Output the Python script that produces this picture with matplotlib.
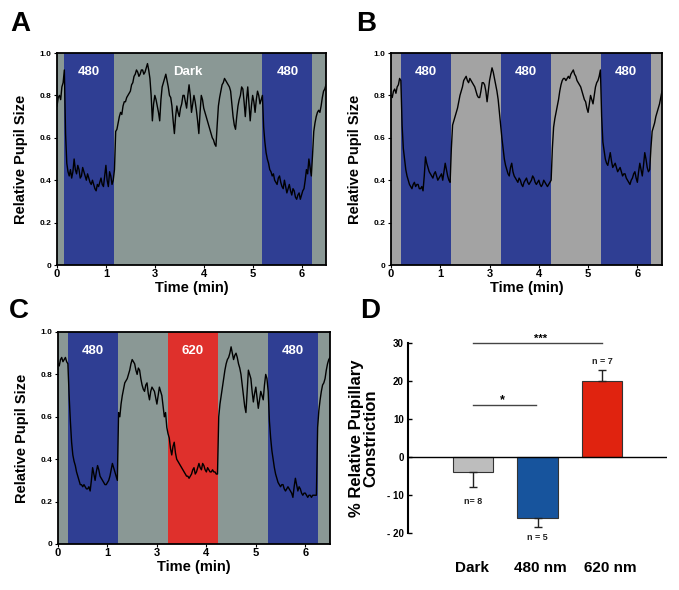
import numpy as np
import matplotlib
matplotlib.use("Agg")
import matplotlib.pyplot as plt

plt.rcParams['font.family'] = ['Liberation Sans', 'DejaVu Sans']
plt.rcParams['font.weight'] = 'bold'

# ---------------- data ----------------
step = 0.025  # time step of the traces (axis units)
trace_a = [0.75, 0.79, 0.80, 0.78, 0.84, 0.86, 0.92, 0.62, 0.48, 0.44,
           0.42, 0.45, 0.41, 0.44, 0.50, 0.45, 0.43, 0.47, 0.45, 0.41,
           0.42, 0.46, 0.44, 0.42, 0.40, 0.43, 0.41, 0.39, 0.38, 0.40,
           0.38, 0.36, 0.35, 0.38, 0.37, 0.39, 0.41, 0.38, 0.37, 0.42,
           0.47, 0.40, 0.37, 0.44, 0.42, 0.38, 0.40, 0.45, 0.63, 0.64,
           0.67, 0.70, 0.72, 0.71, 0.75, 0.77, 0.77, 0.79, 0.80, 0.81,
           0.82, 0.85, 0.86, 0.89, 0.90, 0.92, 0.91, 0.89, 0.90, 0.92,
           0.92, 0.90, 0.91, 0.93, 0.95, 0.92, 0.88, 0.80, 0.68, 0.76,
           0.80, 0.78, 0.75, 0.72, 0.68, 0.78, 0.84, 0.86, 0.88, 0.90,
           0.87, 0.84, 0.80, 0.79, 0.75, 0.68, 0.62, 0.70, 0.75, 0.72,
           0.70, 0.74, 0.76, 0.80, 0.80, 0.77, 0.74, 0.80, 0.85, 0.80,
           0.72, 0.76, 0.80, 0.77, 0.73, 0.68, 0.62, 0.72, 0.80, 0.78,
           0.74, 0.72, 0.70, 0.68, 0.66, 0.64, 0.62, 0.60, 0.59, 0.57,
           0.56, 0.66, 0.75, 0.79, 0.82, 0.85, 0.86, 0.88, 0.87, 0.86,
           0.85, 0.84, 0.82, 0.76, 0.70, 0.66, 0.64, 0.70, 0.75, 0.78,
           0.80, 0.84, 0.83, 0.77, 0.70, 0.78, 0.84, 0.76, 0.68, 0.75,
           0.80, 0.77, 0.72, 0.78, 0.82, 0.80, 0.76, 0.78, 0.80, 0.65,
           0.58, 0.53, 0.50, 0.48, 0.45, 0.44, 0.42, 0.43, 0.40, 0.39,
           0.38, 0.41, 0.42, 0.39, 0.37, 0.36, 0.40, 0.37, 0.34, 0.36,
           0.38, 0.35, 0.33, 0.36, 0.35, 0.32, 0.31, 0.33, 0.34, 0.31,
           0.33, 0.35, 0.36, 0.40, 0.45, 0.43, 0.50, 0.46, 0.42, 0.52,
           0.63, 0.67, 0.70, 0.72, 0.73, 0.72, 0.75, 0.79, 0.82, 0.83,
           0.85]
trace_b = [0.80, 0.79, 0.82, 0.83, 0.81, 0.84, 0.85, 0.88, 0.87, 0.66,
           0.55, 0.50, 0.45, 0.42, 0.40, 0.38, 0.37, 0.36, 0.38, 0.39,
           0.37, 0.38, 0.38, 0.36, 0.36, 0.37, 0.35, 0.42, 0.51, 0.48,
           0.46, 0.44, 0.43, 0.42, 0.41, 0.43, 0.44, 0.42, 0.40, 0.41,
           0.42, 0.43, 0.40, 0.44, 0.48, 0.45, 0.42, 0.40, 0.39, 0.55,
           0.66, 0.68, 0.70, 0.72, 0.74, 0.77, 0.80, 0.82, 0.84, 0.87,
           0.88, 0.89, 0.87, 0.86, 0.88, 0.87, 0.86, 0.85, 0.84, 0.82,
           0.80, 0.79, 0.79, 0.82, 0.86, 0.86, 0.85, 0.82, 0.77, 0.82,
           0.87, 0.90, 0.93, 0.91, 0.88, 0.85, 0.82, 0.78, 0.72, 0.66,
           0.60, 0.55, 0.50, 0.47, 0.45, 0.43, 0.42, 0.46, 0.48, 0.44,
           0.42, 0.41, 0.40, 0.39, 0.41, 0.40, 0.38, 0.37, 0.39, 0.40,
           0.41, 0.39, 0.38, 0.39, 0.40, 0.42, 0.41, 0.39, 0.38, 0.39,
           0.40, 0.38, 0.37, 0.38, 0.40, 0.39, 0.38, 0.37, 0.38, 0.39,
           0.40, 0.55, 0.65, 0.69, 0.72, 0.75, 0.78, 0.82, 0.85, 0.87,
           0.88, 0.88, 0.87, 0.88, 0.89, 0.88, 0.90, 0.91, 0.92, 0.90,
           0.89, 0.87, 0.86, 0.85, 0.84, 0.82, 0.80, 0.78, 0.77, 0.74,
           0.72, 0.76, 0.80, 0.78, 0.76, 0.80, 0.84, 0.86, 0.87, 0.89,
           0.92, 0.70, 0.58, 0.54, 0.50, 0.48, 0.47, 0.50, 0.53, 0.49,
           0.46, 0.47, 0.48, 0.46, 0.44, 0.45, 0.46, 0.44, 0.42, 0.43,
           0.43, 0.41, 0.40, 0.39, 0.38, 0.40, 0.41, 0.43, 0.44, 0.41,
           0.39, 0.44, 0.48, 0.45, 0.42, 0.47, 0.53, 0.50, 0.46, 0.44,
           0.45, 0.55, 0.63, 0.65, 0.67, 0.70, 0.72, 0.74, 0.76, 0.79,
           0.82]
trace_c = [0.85, 0.84, 0.87, 0.88, 0.86, 0.87, 0.88, 0.86, 0.85, 0.70,
           0.58, 0.48, 0.42, 0.39, 0.37, 0.34, 0.32, 0.30, 0.28, 0.28,
           0.27, 0.28, 0.27, 0.26, 0.26, 0.27, 0.25, 0.30, 0.36, 0.33,
           0.30, 0.34, 0.37, 0.35, 0.32, 0.31, 0.30, 0.29, 0.28, 0.28,
           0.29, 0.30, 0.32, 0.35, 0.38, 0.36, 0.34, 0.32, 0.30, 0.62,
           0.60, 0.66, 0.70, 0.73, 0.76, 0.77, 0.78, 0.80, 0.82, 0.85,
           0.87, 0.86, 0.85, 0.82, 0.80, 0.83, 0.82, 0.78, 0.75, 0.73,
           0.72, 0.75, 0.76, 0.71, 0.68, 0.72, 0.74, 0.73, 0.72, 0.69,
           0.66, 0.70, 0.74, 0.72, 0.70, 0.65, 0.60, 0.62, 0.55, 0.52,
           0.50, 0.45, 0.42, 0.46, 0.48, 0.43, 0.40, 0.39, 0.38, 0.37,
           0.36, 0.35, 0.34, 0.33, 0.32, 0.32, 0.31, 0.32, 0.33, 0.35,
           0.36, 0.33, 0.34, 0.36, 0.38, 0.36, 0.35, 0.38, 0.37, 0.35,
           0.34, 0.36, 0.35, 0.34, 0.34, 0.35, 0.34, 0.34, 0.33, 0.33,
           0.60, 0.66, 0.70, 0.74, 0.78, 0.82, 0.85, 0.87, 0.88, 0.90,
           0.93, 0.90, 0.87, 0.89, 0.90, 0.88, 0.85, 0.83, 0.80, 0.75,
           0.70, 0.65, 0.62, 0.72, 0.82, 0.80, 0.78, 0.72, 0.67, 0.71,
           0.74, 0.69, 0.64, 0.68, 0.72, 0.70, 0.68, 0.75, 0.80, 0.78,
           0.72, 0.58, 0.50, 0.44, 0.40, 0.36, 0.33, 0.31, 0.29, 0.28,
           0.27, 0.28, 0.28, 0.26, 0.25, 0.26, 0.27, 0.26, 0.25, 0.24,
           0.22, 0.27, 0.31, 0.28, 0.25, 0.27, 0.26, 0.24, 0.23, 0.24,
           0.24, 0.23, 0.22, 0.23, 0.23, 0.22, 0.23, 0.23, 0.23, 0.23,
           0.55, 0.63, 0.68, 0.72, 0.75, 0.76, 0.78, 0.82, 0.85, 0.87,
           0.88]

# stimulus periods (start, end, kind) in axis units
periods_a = [(0.14, 1.16, '480'), (1.16, 4.20, 'Dark'), (4.20, 5.22, '480')]
periods_b = [(0.20, 1.22, '480'), (2.24, 3.25, '480'), (4.27, 5.28, '480')]
periods_c = [(0.20, 1.22, '480'), (2.22, 3.24, '620'), (4.25, 5.26, '480')]

time_ticks = [0, 1, 2, 3, 4, 5]
time_labels = ['0', '1', '3', '4', '5', '6']
pupil_ticks = [0, 0.2, 0.4, 0.6, 0.8, 1.0]
pupil_labels = ['0', '0.2', '0.4', '0.6', '0.8', '1.0']

groups = ['Dark', '480 nm', '620 nm']
constriction = [-4.0, -16.0, 20.0]
constriction_err = [4.0, 2.5, 3.0]
n_labels = ['n= 8', 'n = 5', 'n = 7']
d_ticks = [-20, -10, 0, 10, 20, 30]
d_labels = ['- 20', '- 10', '0', '10', '20', '30']

BLUE = '#2f3e93'
GRAY_AC = '#8a9895'
GRAY_B = '#a3a3a3'
RED = '#df302c'
bar_colors = ['#bdbdbd', '#17549d', '#e0230f']

W, H = 679, 590
fig = plt.figure(figsize=(W / 100, H / 100), dpi=100)


def fx(px):
    return px / W


def fy(py):
    return 1 - py / H


def trace_panel(rect, trace, periods, bg):
    ax = fig.add_axes(rect)
    ax.set_facecolor(bg)
    for (s, e, kind) in periods:
        col = {'480': BLUE, '620': RED, 'Dark': bg}[kind]
        ax.axvspan(s, e, color=col, lw=0, zorder=0)
        ax.text((s + e) / 2, 0.91, kind, color='white', ha='center',
                va='center', fontsize=9.5, fontweight='bold', zorder=3)
    t = np.arange(len(trace)) * step
    ax.plot(t, trace, color='black', lw=1.0, zorder=2)
    ax.set_xlim(0, 5.5)
    ax.set_ylim(0, 1.0)
    ax.set_xticks(time_ticks)
    ax.set_xticklabels(time_labels, fontsize=8, fontweight='bold')
    ax.set_yticks(pupil_ticks)
    ax.set_yticklabels(pupil_labels, fontsize=6, fontweight='bold')
    ax.tick_params(length=2, width=0.8, pad=2)
    ax.tick_params(axis='x', pad=1)
    for sp in ax.spines.values():
        sp.set_linewidth(1.3)
    ax.set_xlabel('Time (min)', fontsize=10.5, fontweight='bold', labelpad=1)
    ax.set_ylabel('Relative Pupil Size', fontsize=10.5, fontweight='bold',
                  labelpad=8)
    return ax


h_tr = fy(53) - fy(265)
trace_panel([fx(57), fy(265), fx(269), h_tr], trace_a, periods_a, GRAY_AC)
trace_panel([fx(391), fy(265), fx(271), h_tr], trace_b, periods_b, GRAY_B)
trace_panel([fx(58), fy(544), fx(272), h_tr], trace_c, periods_c, GRAY_AC)

# ---------------- panel D ----------------
axd = fig.add_axes([fx(408), fy(533), fx(259), fy(343) - fy(533)])
pos = np.arange(1, len(groups) + 1)
axd.bar(pos, constriction, width=0.62, color=bar_colors, edgecolor='#333333',
        linewidth=0.8, zorder=2)
for p, v, e in zip(pos, constriction, constriction_err):
    yerr = [[0], [e]] if v > 0 else [[e], [0]]
    axd.errorbar(p, v, yerr=yerr, color='#222222', capsize=3,
                 elinewidth=1.0, capthick=1.0, zorder=3)
axd.axhline(0, color='black', lw=1.0, zorder=4)
axd.set_xlim(0, 4)
axd.set_ylim(-20, 30)
axd.set_yticks(d_ticks)
axd.set_yticklabels(d_labels, fontsize=7, fontweight='bold')
axd.tick_params(axis='y', direction='in', length=3, width=1, pad=3)
axd.set_xticks([])
for s in ['top', 'right', 'bottom']:
    axd.spines[s].set_visible(False)
axd.spines['left'].set_linewidth(1.5)
axd.set_ylabel('% Relative Pupillary\nConstriction', fontsize=12,
               fontweight='bold', labelpad=6, linespacing=1.0)

# n labels
n_y = [-11.8, -21.3, 25.2]
for p, lab, yy in zip(pos, n_labels, n_y):
    axd.text(p, yy, lab, ha='center', va='center', fontsize=6.5,
             fontweight='bold', color='#222222')

# significance bars
axd.plot([1, 3], [30, 30], color='#444444', lw=1.0, clip_on=False)
axd.text(2.05, 31.0, '***', ha='center', va='center', fontsize=8,
         fontweight='bold')
axd.plot([1, 1.98], [13.7, 13.7], color='#444444', lw=1.0, clip_on=False)
axd.text(1.45, 15.0, '*', ha='center', va='center', fontsize=9,
         fontweight='bold')

# group labels
grp_x = [472, 540, 610]
for gx, g in zip(grp_x, groups):
    fig.text(fx(gx), fy(568), g, ha='center', va='center', fontsize=11,
             fontweight='bold')

# panel letters
for lab, x, y in [('A', 10, 24), ('B', 356, 24), ('C', 9, 311), ('D', 360, 311)]:
    fig.text(fx(x), fy(y), lab, ha='left', va='center', fontsize=20,
             fontweight='bold')

fig.savefig('out.png', dpi=100)
